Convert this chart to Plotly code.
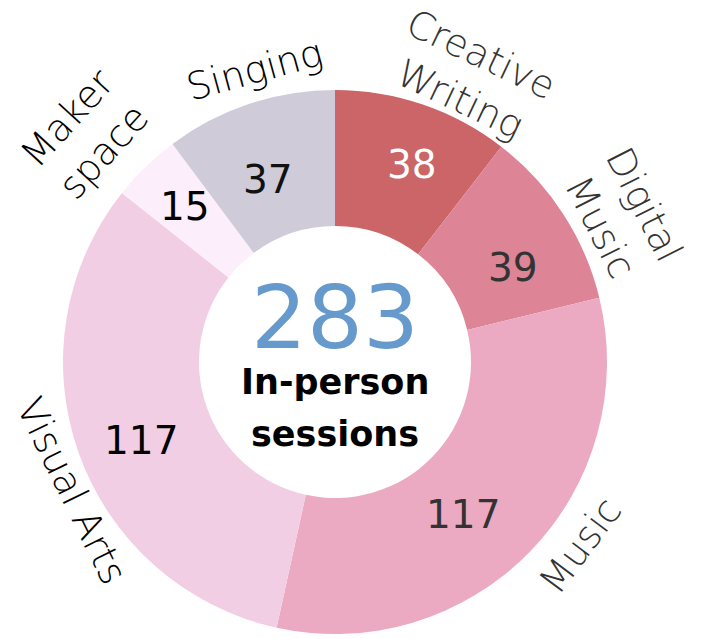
import math
import plotly.graph_objects as go

categories = ["Creative<br>Writing", "Digital<br>Music", "Music", "Visual Arts", "Maker<br>space", "Singing"]
values = [38, 39, 117, 117, 15, 37]
center_value = "283"
center_lines = ["In-person", "sessions"]

colors = ["#cb6567", "#dd8596", "#ebaac2", "#f2cee4", "#fdeefc", "#d0cbd8"]
value_colors = ["#ffffff", "#333333", "#333333", "#000000", "#000000", "#111111"]
label_colors = ["#333333", "#333333", "#333333", "#000000", "#000000", "#000000"]
# style tweaks: angular shift (deg) and radial distance (px) for outer labels and values
label_shift = [6.5, 6.0, -7.5, -6.5, -3.5, 3.0]
label_radius = [316, 322, 306, 293, 338, 303]
value_shift = [2.4, 5.0, 5.5, -2.4, 0.3, -1.9]
value_radius = [212, 201, 199, 209, 216, 195]

W, H = 704, 639
OFF = 8  # page body margin
CX, CY, R = 335 - OFF, 362 - OFF, 272
FONT = "DejaVu Sans"


def px(x, y):
    return x / W, 1 - y / H


fig = go.Figure()
fig.add_trace(go.Pie(
    labels=[c.replace("<br>", " ") for c in categories],
    values=values,
    sort=False,
    direction="clockwise",
    rotation=0,
    hole=0.5,
    marker=dict(colors=colors, line=dict(width=0)),
    textinfo="none",
    domain=dict(x=[(CX - R) / W, (CX + R) / W], y=[1 - (CY + R) / H, 1 - (CY - R) / H]),
    showlegend=False,
    hoverinfo="label+value",
))

total = sum(values)
cum = 0
annotations = []
for i, (cat, v) in enumerate(zip(categories, values)):
    mid = (cum + v / 2) / total * 360
    cum += v
    # outer label
    th = mid + label_shift[i]
    r = label_radius[i]
    x, y = px(CX + r * math.sin(math.radians(th)), CY - r * math.cos(math.radians(th)))
    ang = th % 360
    if 90 < ang < 270:
        rot = ang - 180
    else:
        rot = ang if ang <= 90 else ang - 360
    annotations.append(dict(
        x=x, y=y, xref="paper", yref="paper",
        text=cat, showarrow=False, textangle=rot,
        xanchor="center", yanchor="middle",
        font=dict(family=FONT, size=38, color=label_colors[i], weight=200),
    ))
    # value inside slice
    th = mid + value_shift[i]
    r = value_radius[i]
    x, y = px(CX + r * math.sin(math.radians(th)), CY - r * math.cos(math.radians(th)))
    annotations.append(dict(
        x=x, y=y, xref="paper", yref="paper",
        text=str(v), showarrow=False,
        xanchor="center", yanchor="middle",
        font=dict(family=FONT, size=39, color=value_colors[i]),
    ))

x, y = px(CX, 317 - OFF)
annotations.append(dict(
    x=x, y=y, xref="paper", yref="paper",
    text=center_value, showarrow=False, xanchor="center", yanchor="middle",
    font=dict(family=FONT, size=88, color="#6699cc"),
))
for k, (line, yy) in enumerate(zip(center_lines, [382, 434])):
    x, y = px(CX, yy - OFF)
    annotations.append(dict(
        x=x, y=y, xref="paper", yref="paper",
        text="<b>" + line + "</b>", showarrow=False, xanchor="center", yanchor="middle",
        font=dict(family=FONT, size=35, color="#000000"),
    ))

fig.update_layout(
    width=W, height=H,
    margin=dict(l=0, r=0, t=0, b=0),
    paper_bgcolor="white", plot_bgcolor="white",
    annotations=annotations,
)

fig.write_html("out.html")
